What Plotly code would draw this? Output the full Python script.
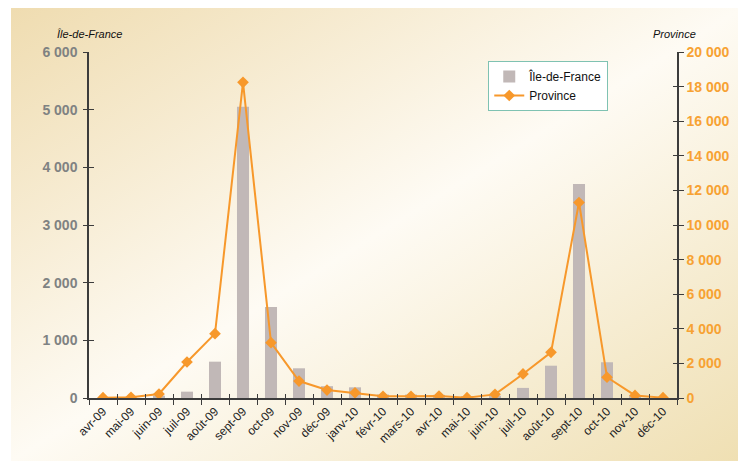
import base64
import plotly.graph_objects as go

months = ["avr-09", "mai-09", "juin-09", "juil-09", "août-09", "sept-09", "oct-09",
          "nov-09", "déc-09", "janv-10", "févr-10", "mars-10", "avr-10", "mai-10",
          "juin-10", "juil-10", "août-10", "sept-10", "oct-10", "nov-10", "déc-10"]
ile_de_france = [0, 0, 40, 110, 630, 5050, 1580, 515, 205, 185, 60, 60, 55, 25,
                 40, 175, 560, 3710, 620, 45, 0]
province = [20, 40, 230, 2080, 3720, 18250, 3200, 980, 460, 300, 100, 100, 115, 20,
            210, 1390, 2640, 11300, 1200, 150, 20]
left_ticks = [0, 1000, 2000, 3000, 4000, 5000, 6000]
left_text = ["0", "1 000", "2 000", "3 000", "4 000", "5 000", "6 000"]
right_ticks = [0, 2000, 4000, 6000, 8000, 10000, 12000, 14000, 16000, 18000, 20000]
right_text = ["0", "2 000", "4 000", "6 000", "8 000", "10 000", "12 000", "14 000",
              "16 000", "18 000", "20 000"]

BAR = "#c1b8b7"
ORANGE = "#f7982b"
AX = "#3c3c3c"

svg = ('<svg xmlns="http://www.w3.org/2000/svg" width="735" height="455" viewBox="0 0 735 455" '
       'preserveAspectRatio="none"><defs><linearGradient id="g" x1="0" y1="0" x2="1" y2="1">'
       '<stop offset="0" stop-color="#efdcb0"/><stop offset="0.5" stop-color="#fefbf4"/>'
       '<stop offset="1" stop-color="#efdfb2"/></linearGradient></defs>'
       '<rect x="0" y="0" width="735" height="455" fill="url(#g)"/></svg>')
src = "data:image/svg+xml;base64," + base64.b64encode(svg.encode()).decode()

fig = go.Figure()
fig.add_trace(go.Bar(x=months, y=ile_de_france, name="Île-de-France",
                     marker=dict(color=BAR, line=dict(width=0)), yaxis="y"))
fig.add_trace(go.Scatter(x=months, y=province, name="Province", yaxis="y2",
                         mode="lines+markers",
                         line=dict(color=ORANGE, width=2),
                         marker=dict(symbol="diamond", size=9, color=ORANGE)))
# invisible helper traces for crossing tick marks
fig.add_trace(go.Scatter(x=months, y=ile_de_france, xaxis="x2", yaxis="y3",
                         mode="markers", marker=dict(opacity=0), showlegend=False,
                         hoverinfo="skip"))
fig.add_trace(go.Scatter(x=months, y=province, xaxis="x2", yaxis="y4",
                         mode="markers", marker=dict(opacity=0), showlegend=False,
                         hoverinfo="skip"))

# the page body has an 8px margin, so the figure is offset by 8px
fig.update_layout(
    width=738, height=453,
    margin=dict(l=81, r=69, t=44, b=63),
    paper_bgcolor="white",
    plot_bgcolor="rgba(0,0,0,0)",
    font=dict(family="Arial, Liberation Sans, sans-serif"),
    bargap=0.57,
    showlegend=True,
    legend=dict(x=0.679, y=0.974, xanchor="left", yanchor="top",
                bgcolor="white", bordercolor="#7fc2b2", borderwidth=1,
                font=dict(size=12, color="#111"), tracegroupgap=4,
                itemwidth=30),
    xaxis=dict(type="category", showgrid=False, showline=True, linecolor=AX, linewidth=1.5,
               ticks="outside", ticklen=5, tickwidth=1.2, tickcolor=AX,
               tickson="boundaries", tickangle=-45,
               tickfont=dict(size=12, color="#222"), range=[-0.5, 20.5]),
    xaxis2=dict(type="category", overlaying="x", anchor="y3", showgrid=False,
                showline=False, ticks="inside", ticklen=4, tickwidth=1.2, tickcolor=AX,
                tickson="boundaries", showticklabels=False, range=[-0.5, 20.5]),
    yaxis=dict(range=[0, 6000], tickvals=left_ticks, ticktext=left_text, showgrid=False,
               zeroline=False, showline=True, linecolor=AX, linewidth=1.5,
               ticks="outside", ticklen=4, tickwidth=1.2, tickcolor=AX,
               ticklabelstandoff=3,
               tickfont=dict(size=14, color="#7f8282", weight="bold")),
    yaxis2=dict(range=[0, 20000], tickvals=right_ticks, ticktext=right_text,
                overlaying="y", side="right", showgrid=False, zeroline=False,
                showline=True, linecolor=AX, linewidth=1.5,
                ticks="outside", ticklen=5, tickwidth=1.2, tickcolor=AX,
                tickfont=dict(size=14, color="#f7a233", weight="bold")),
    yaxis3=dict(range=[0, 6000], tickvals=left_ticks, overlaying="y", anchor="x2",
                showgrid=False, zeroline=False, showline=False,
                ticks="inside", ticklen=5, tickwidth=1.2, tickcolor=AX,
                showticklabels=False),
    yaxis4=dict(range=[0, 20000], tickvals=right_ticks, overlaying="y", side="right",
                anchor="x2", showgrid=False, zeroline=False, showline=False,
                ticks="inside", ticklen=4, tickwidth=1.2, tickcolor=AX,
                showticklabels=False),
    images=[dict(source=src, xref="paper", yref="paper", x=-0.1327, y=1.133,
                 sizex=1.25, sizey=1.315, xanchor="left", yanchor="top",
                 sizing="stretch", layer="below")],
    annotations=[
        dict(text="<i>Île-de-France</i>", xref="paper", yref="paper", x=0.0, y=1.052,
             xanchor="center", yanchor="middle", showarrow=False,
             font=dict(size=11, color="#111")),
        dict(text="<i>Province</i>", xref="paper", yref="paper", x=0.996, y=1.052,
             xanchor="center", yanchor="middle", showarrow=False,
             font=dict(size=11, color="#111")),
    ],
)

fig.write_html("out.html")
